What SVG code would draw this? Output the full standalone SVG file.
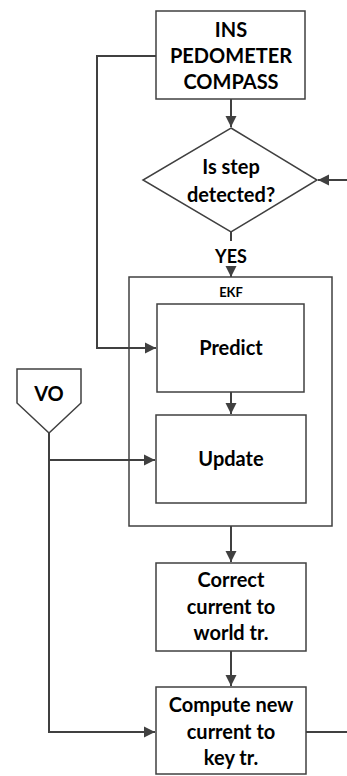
<svg xmlns="http://www.w3.org/2000/svg" width="347" height="776" viewBox="0 0 347 776">
  <style>
    .box { fill: #ffffff; stroke: #404040; stroke-width: 1.5; }
    .wire { fill: none; stroke: #404040; stroke-width: 2; }
    .lbl { font-family: Lato, "Open Sans", sans-serif; font-weight: bold; font-size: 20px; fill: #000000; text-anchor: middle; }
    .small { font-size: 13px; }
  </style>
  <defs>
    <marker id="arr" markerWidth="12" markerHeight="12" refX="11" refY="6" orient="auto" markerUnits="userSpaceOnUse">
      <path d="M0,0.5 L11,6 L0,11.5 Z" fill="#404040"/>
    </marker>
  </defs>
  <rect width="347" height="776" fill="#ffffff"/>

  <g id="sensors">
    <rect class="box" x="156" y="11" width="149" height="88"/>
    <text class="lbl" x="231" y="37">INS</text>
    <text class="lbl" x="231" y="63">PEDOMETER</text>
    <text class="lbl" x="231" y="89">COMPASS</text>
  </g>

  <g id="step-check">
    <polygon class="box" points="231,128 317,180 231,232 143,180"/>
    <text class="lbl" x="231" y="174">Is step</text>
    <text class="lbl" x="231" y="202">detected?</text>
  </g>

  <g id="yes-label">
    <text class="lbl" x="231" y="263" style="font-size:18px">YES</text>
  </g>

  <g id="ekf">
    <rect class="box" x="129" y="277" width="203" height="249"/>
    <text class="lbl small" x="231" y="297">EKF</text>
  </g>

  <g id="predict">
    <rect class="box" x="157" y="304" width="147" height="88"/>
    <text class="lbl" x="231" y="355">Predict</text>
  </g>

  <g id="update">
    <rect class="box" x="156" y="415" width="150" height="88"/>
    <text class="lbl" x="231" y="466">Update</text>
  </g>

  <g id="vo">
    <polygon class="box" points="17,369 81,369 81,403 49,433 17,403"/>
    <text class="lbl" x="49" y="401">VO</text>
  </g>

  <g id="correct">
    <rect class="box" x="156" y="563" width="150" height="88"/>
    <text class="lbl" x="231" y="587">Correct</text>
    <text class="lbl" x="231" y="614">current to</text>
    <text class="lbl" x="231" y="640">world tr.</text>
  </g>

  <g id="compute">
    <rect class="box" x="156" y="687" width="150" height="87"/>
    <text class="lbl" x="231" y="712">Compute new</text>
    <text class="lbl" x="231" y="739">current to</text>
    <text class="lbl" x="231" y="765">key tr.</text>
  </g>

  <g id="connectors">
    <path class="wire" d="M231,99 V127" marker-end="url(#arr)"/>
    <path class="wire" d="M347,180 H318" marker-end="url(#arr)"/>
    <path class="wire" d="M231,232 V241"/>
    <path class="wire" d="M231,267 V277" marker-end="url(#arr)"/>
    <path class="wire" d="M156,56 H97 V348 H156" marker-end="url(#arr)"/>
    <path class="wire" d="M231,392 V414" marker-end="url(#arr)"/>
    <path class="wire" d="M49,460 H155" marker-end="url(#arr)"/>
    <path class="wire" d="M49,433 V732 H155" marker-end="url(#arr)"/>
    <path class="wire" d="M231,526 V562" marker-end="url(#arr)"/>
    <path class="wire" d="M231,651 V686" marker-end="url(#arr)"/>
    <path class="wire" d="M306,732 H347"/>
  </g>
</svg>
